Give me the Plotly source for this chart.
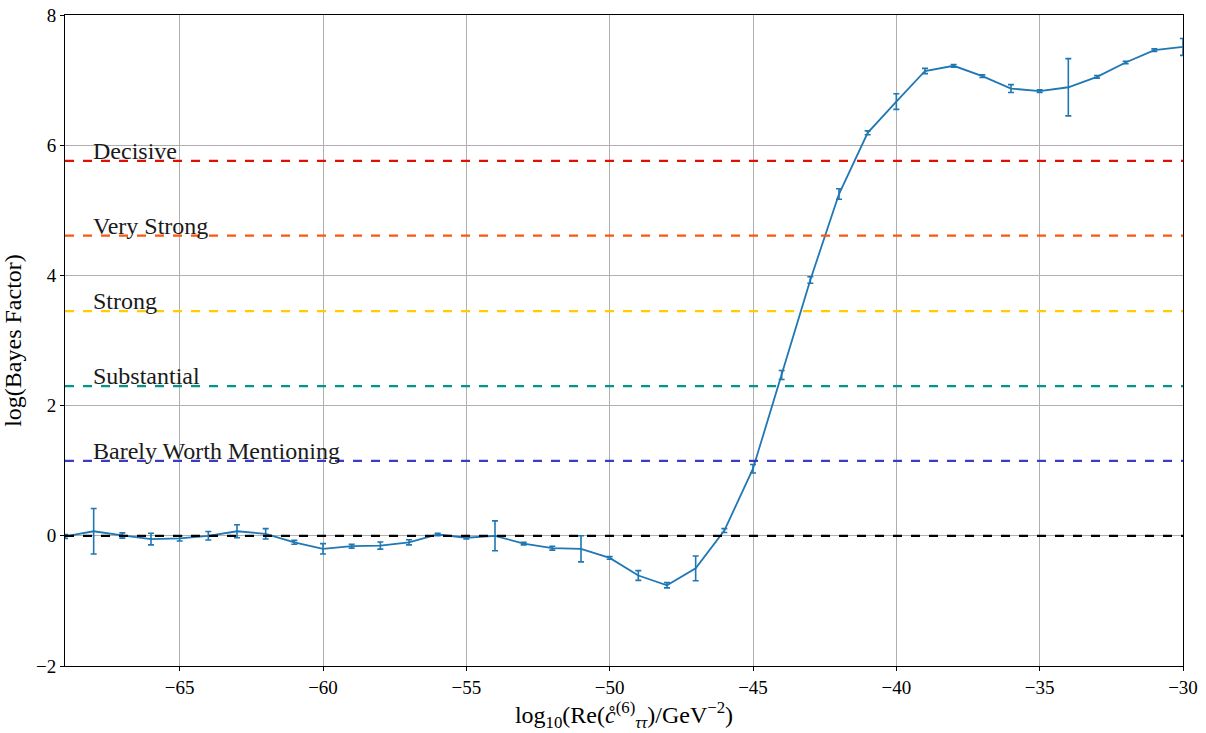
import plotly.graph_objects as go

x_vals = list(range(-69, -29))
bf = [-0.01, 0.07, 0.005, -0.05, -0.04, 0.0, 0.07, 0.03, -0.10, -0.20,
      -0.16, -0.15, -0.10, 0.02, -0.03, 0.0, -0.12, -0.19, -0.20, -0.34,
      -0.61, -0.76, -0.50, 0.08, 1.03, 2.47, 3.93, 5.25, 6.19, 6.67,
      7.14, 7.22, 7.06, 6.87, 6.83, 6.89, 7.05, 7.27, 7.46, 7.51]
bf_err = [0.03, 0.35, 0.04, 0.09, 0.04, 0.065, 0.10, 0.08, 0.03, 0.08,
          0.03, 0.055, 0.04, 0.02, 0.02, 0.23, 0.02, 0.03, 0.20, 0.02,
          0.075, 0.04, 0.19, 0.03, 0.065, 0.07, 0.05, 0.08, 0.03, 0.12,
          0.04, 0.02, 0.02, 0.06, 0.02, 0.44, 0.02, 0.02, 0.02, 0.13]

thresh_labels = ["Barely Worth Mentioning", "Substantial", "Strong", "Very Strong", "Decisive"]
thresh_values = [1.15, 2.30, 3.45, 4.61, 5.76]
thresh_colors = ["#3c3cc0", "#009688", "#ffcc00", "#ff5511", "#dd1100"]

x_ticks = [-65, -60, -55, -50, -45, -40, -35, -30]
y_ticks = [-2, 0, 2, 4, 6, 8]

font_family = "Liberation Serif, DejaVu Serif, serif"

fig = go.Figure()
fig.add_trace(go.Scatter(
    x=x_vals, y=bf, mode="lines",
    line=dict(color="#1f77b4", width=1.8),
    error_y=dict(type="data", array=bf_err, visible=True, color="#1f77b4",
                 thickness=1.6, width=3),
    showlegend=False, hoverinfo="x+y"))

shapes = []
shapes.append(dict(type="line", xref="x domain", yref="y", x0=0, x1=1, y0=0, y1=0,
                   line=dict(color="black", width=2.2, dash="dash"), layer="above"))
annotations = []
for lab, v, c in zip(thresh_labels, thresh_values, thresh_colors):
    shapes.append(dict(type="line", xref="x domain", yref="y", x0=0, x1=1, y0=v, y1=v,
                       line=dict(color=c, width=2.2, dash="dash"), layer="above"))
    annotations.append(dict(x=-68, y=v, xref="x", yref="y", text=lab, showarrow=False,
                            xanchor="left", yanchor="bottom", yshift=-5, xshift=-3,
                            font=dict(family=font_family, size=24, color="#1a1a1a")))

fig.update_layout(
    width=1206, height=733,
    margin=dict(l=65, r=23, t=15, b=67),
    plot_bgcolor="white", paper_bgcolor="white",
    font=dict(family=font_family, size=19, color="black"),
    shapes=shapes, annotations=annotations,
    xaxis=dict(range=[-69, -30], tickvals=x_ticks, showgrid=True, gridcolor="#b0b0b0",
               gridwidth=1, showline=True, linecolor="black", linewidth=1, mirror=True,
               ticks="outside", ticklen=4, tickcolor="black", zeroline=False,
               automargin=False,
               title=dict(text="log<sub>10</sub>(Re(<i>c\u030a</i><sup>(6)</sup><sub><i>ττ</i></sub>)/GeV<sup>−2</sup>)",
                          font=dict(size=24), standoff=4),
               tickfont=dict(size=19)),
    yaxis=dict(range=[-2, 8], tickvals=y_ticks, showgrid=True, gridcolor="#b0b0b0",
               gridwidth=1, showline=True, linecolor="black", linewidth=1, mirror=True,
               ticks="outside", ticklen=4, tickcolor="black", zeroline=False,
               automargin=False,
               title=dict(text="log(Bayes Factor)", font=dict(size=24), standoff=8),
               tickfont=dict(size=19)),
)

fig.write_html("out.html", config={"displayModeBar": False},
               post_script="document.body.style.margin='0';document.body.style.overflow='hidden';")
